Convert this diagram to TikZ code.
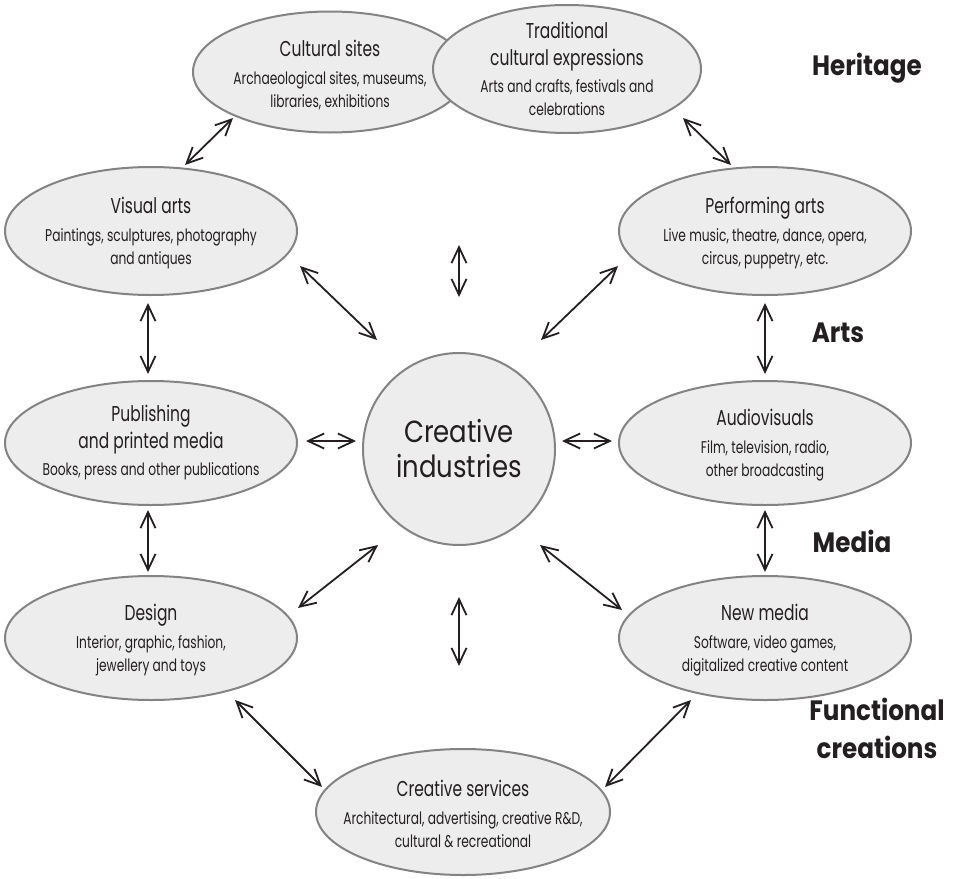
\documentclass[tikz,border=0pt]{standalone}
\usepackage{fontspec}
\setmainfont{Poppins}
\newfontfamily\condfont[FakeStretch=0.72]{Poppins}
\newfontfamily\centrefont[FakeStretch=0.85]{Poppins}
\newfontfamily\headfont[FakeStretch=0.88]{Poppins}
\usetikzlibrary{arrows.meta,shapes.geometric}

\definecolor{ink}{HTML}{231F20}
\definecolor{areafill}{HTML}{EDEDED}
\definecolor{edgegrey}{HTML}{838383}

\tikzset{
  area/.style={ellipse, draw=edgegrey, fill=areafill, line width=2pt,
    inner sep=0pt, minimum width=292pt, minimum height=128pt},
  areatext/.style={align=center, text=ink, inner sep=0pt,
    font=\condfont\fontsize{17}{23}\selectfont},
  hub/.style={circle, draw=edgegrey, fill=areafill, line width=2pt,
    inner sep=0pt, minimum size=192pt, align=center, text=ink,
    font=\centrefont\fontsize{30.5}{35}\selectfont},
  group/.style={text=ink, align=center, font=\headfont\bfseries\fontsize{28}{38}\selectfont},
  link/.style={{Straight Barb[length=16pt,width=15pt]}-{Straight Barb[length=16pt,width=15pt]},
    line width=1.8pt, draw=ink},
}
\newcommand\areatitle[1]{{\fontsize{21.5}{23}\selectfont #1}}

\begin{document}
\begin{tikzpicture}[x=1pt,y=-1pt]
\useasboundingbox (0,0) rectangle (958,878);

% the ten fields around the hub: outline first, then its text
\node[area, minimum width=274pt, minimum height=121pt] (cult) at (330,72) {};
\node[areatext] (cult-t) at (330,75)
  {\areatitle{Cultural sites}\\[5pt]Archaeological sites, museums,\\libraries, exhibitions};
\node[area, minimum width=268pt] (trad) at (567,69) {};
\node[areatext] (trad-t) at (567,69)
  {\areatitle{Traditional}\\[4pt]\areatitle{cultural expressions}\\[4pt]Arts and crafts, festivals and\\celebrations};
\node[area] (vis) at (151,231) {};
\node[areatext] (vis-t) at (151,233)
  {\areatitle{Visual arts}\\[5pt]Paintings, sculptures, photography\\and antiques};
\node[area] (perf) at (765,231) {};
\node[areatext] (perf-t) at (765,233)
  {\areatitle{Performing arts}\\[5pt]Live music, theatre, dance, opera,\\circus, puppetry, etc.};
\node[area, minimum height=124pt] (pub) at (151,443) {};
\node[areatext] (pub-t) at (151,443)
  {\areatitle{Publishing}\\[4pt]\areatitle{and printed media}\\[4pt]Books, press and other publications};
\node[area, minimum height=124pt] (audio) at (765,443) {};
\node[areatext] (audio-t) at (765,445)
  {\areatitle{Audiovisuals}\\[5pt]Film, television, radio,\\other broadcasting};
\node[area, minimum height=124pt] (design) at (151,638) {};
\node[areatext] (design-t) at (151,640)
  {\areatitle{Design}\\[5pt]Interior, graphic, fashion,\\jewellery and toys};
\node[area, minimum height=124pt] (newm) at (765,638) {};
\node[areatext] (newm-t) at (765,640)
  {\areatitle{New media}\\[5pt]Software, video games,\\digitalized creative content};
\node[area, minimum height=126pt, minimum width=294pt] (serv) at (463,812) {};
\node[areatext] (serv-t) at (463,814)
  {\areatitle{Creative services}\\[5pt]Architectural, advertising, creative R\&D,\\cultural \& recreational};

% the hub
\node[hub] (hub) at (459,449) {Creative\\industries};

% group labels on the right
\node[group] (heritage) at (867,68) {Heritage};
\node[group] (arts) at (838,333) {Arts};
\node[group] (media) at (852,541) {Media};
\node[group] (func) at (877,728) {Functional\\creations};

% connector end points
\coordinate (a1) at (233,118); \coordinate (a2) at (185,165);
\coordinate (b1) at (683,118); \coordinate (b2) at (731,165);
\coordinate (c1) at (459,245); \coordinate (c2) at (459,297);
\coordinate (d1) at (300,266); \coordinate (d2) at (377,340);
\coordinate (e1) at (618,266); \coordinate (e2) at (541,340);
\coordinate (f1) at (148,303); \coordinate (f2) at (148,374);
\coordinate (g1) at (765,303); \coordinate (g2) at (765,374);
\coordinate (h1) at (306,441); \coordinate (h2) at (356,441);
\coordinate (i1) at (562,441); \coordinate (i2) at (612,441);
\coordinate (j1) at (148,510); \coordinate (j2) at (148,572);
\coordinate (k1) at (765,510); \coordinate (k2) at (765,572);
\coordinate (l1) at (378,545); \coordinate (l2) at (298,608);
\coordinate (m1) at (540,545); \coordinate (m2) at (622,610);
\coordinate (n1) at (459,597); \coordinate (n2) at (459,666);
\coordinate (o1) at (235,700); \coordinate (o2) at (322,787);
\coordinate (p1) at (691,700); \coordinate (p2) at (605,787);

% double-headed links
\foreach \s in {a,b,c,d,e,f,g,h,i,j,k,l,m,n,o,p}
  \draw[link] (\s1) -- (\s2);
\end{tikzpicture}
\end{document}
